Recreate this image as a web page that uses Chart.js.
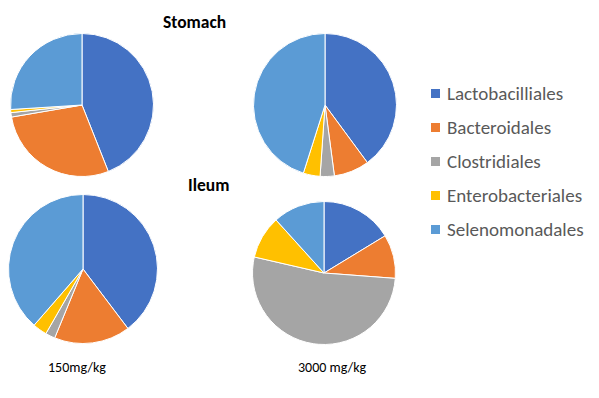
<!DOCTYPE html>
<html>
<head>
<meta charset="utf-8">
<script src="https://cdn.jsdelivr.net/npm/chart.js@4.4.1/dist/chart.umd.min.js"></script>
<style>
  body { margin: 0; background: #fff; width: 599px; height: 398px; overflow: hidden; position: relative; font-family: Carlito, "Open Sans", "Liberation Sans", sans-serif; }
  canvas { position: absolute; }
  .title { position: absolute; font-weight: bold; font-size: 17.5px; color: #000; }
  .dose { position: absolute; font-size: 14px; color: #000; }
  #legend { position: absolute; left: 431px; top: 76px; }
  .item { height: 34px; display: flex; align-items: center; font-size: 19px; color: #595959; }
  .sw { width: 9px; height: 9px; margin-right: 7px; }
</style>
</head>
<body>
<div class="title" style="left:163px; top:11px;">Stomach</div>
<div class="title" style="left:188px; top:174px;">Ileum</div>
<div class="dose" style="left:48px; top:359px;">150mg/kg</div>
<div class="dose" style="left:298px; top:359px;">3000 mg/kg</div>

<canvas id="stomach150" width="144" height="144" style="left:10px; top:33px;"></canvas>
<canvas id="stomach3000" width="144" height="144" style="left:253px; top:33px;"></canvas>
<canvas id="ileum150" width="150" height="150" style="left:8px; top:194px;"></canvas>
<canvas id="ileum3000" width="144" height="144" style="left:252px; top:201px;"></canvas>

<div id="legend"></div>

<script>
// Ordenes bacterianos
const categories = ['Lactobacilliales', 'Bacteroidales', 'Clostridiales', 'Enterobacteriales', 'Selenomonadales'];
const colors = ['#4472C4', '#ED7D31', '#A5A5A5', '#FFC000', '#5B9BD5'];

// Porcentajes
const stomach150 = [44.0, 28.3, 1.0, 0.7, 26.0];
const stomach3000 = [39.9, 8.0, 3.2, 3.8, 45.1];
const ileum150 = [39.7, 16.5, 2.1, 3.1, 38.6];
const ileum3000 = [16.3, 9.9, 52.4, 9.7, 11.7];

function makePie(id, values) {
    const el = document.getElementById(id);
    if (!el) {
        console.warn('Canvas no encontrado:', id);
        return;
    }
    new Chart(el.getContext('2d'), {
        type: 'pie',
        data: {
            labels: categories,
            datasets: [{
                data: values,
                backgroundColor: colors,
                borderColor: '#ffffff',
                borderWidth: 1
            }]
        },
        options: {
            responsive: false,
            animation: false,
            layout: { padding: 0 },
            plugins: {
                legend: { display: false },
                tooltip: { enabled: false }
            }
        }
    });
}

makePie('stomach150', stomach150);
makePie('stomach3000', stomach3000);
makePie('ileum150', ileum150);
makePie('ileum3000', ileum3000);

// Leyenda
const legend = document.getElementById('legend');
categories.forEach((name, i) => {
    const row = document.createElement('div');
    row.className = 'item';
    const sw = document.createElement('span');
    sw.className = 'sw';
    sw.style.background = colors[i];
    row.appendChild(sw);
    row.appendChild(document.createTextNode(name));
    legend.appendChild(row);
});
</script>
</body>
</html>
